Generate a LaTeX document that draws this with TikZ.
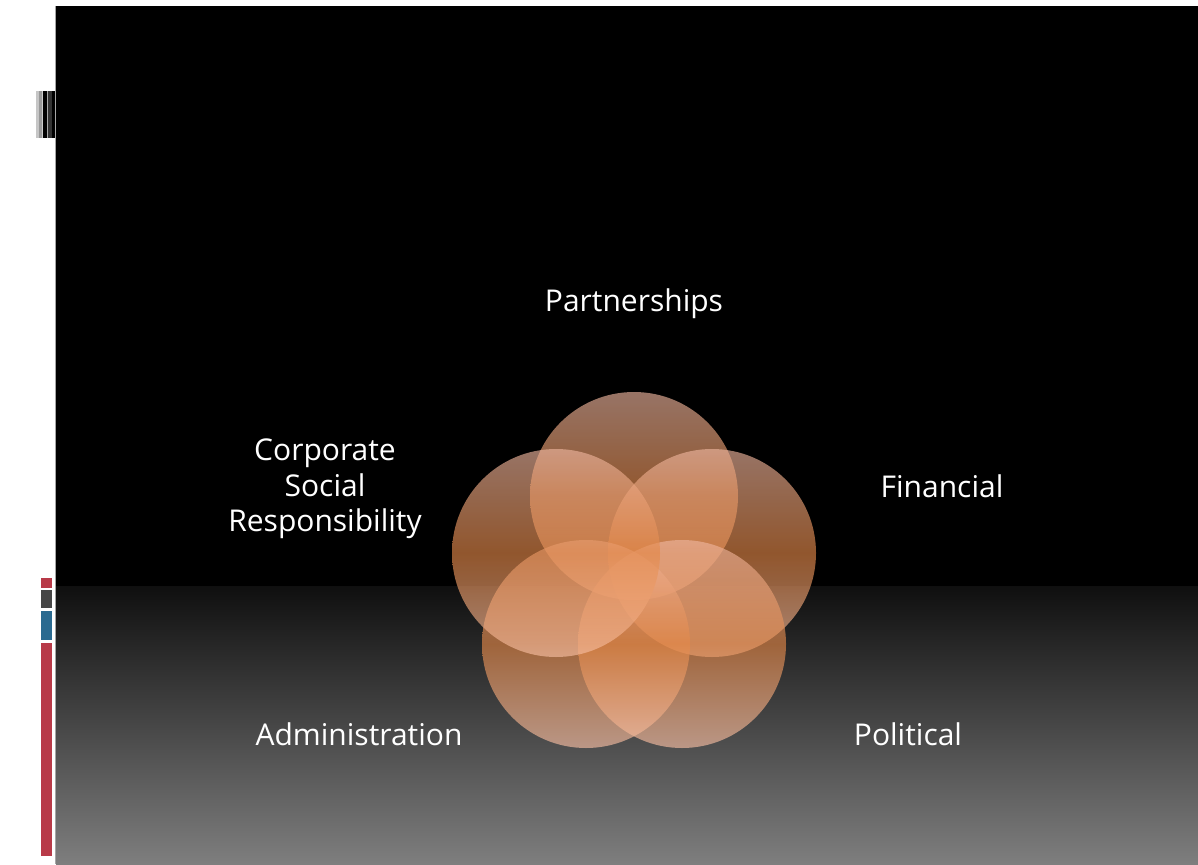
\documentclass[tikz,border=0pt]{standalone}
\usepackage{fontspec}
\setmainfont{Open Sans}

\definecolor{slidegrey}{RGB}{126,126,126}
\definecolor{venntop}{RGB}{238,182,160}
\definecolor{vennmid}{RGB}{228,136,72}
\definecolor{vennbot}{RGB}{248,192,165}
\definecolor{barred}{RGB}{184,58,72}
\definecolor{barblue}{RGB}{42,106,144}
\definecolor{bargrey}{RGB}{70,70,70}

\begin{document}
\begin{tikzpicture}[x=1pt, y=-1pt,
  venn/.style={circle, minimum size=208pt, inner sep=0pt,
    top color=venntop, bottom color=vennbot, middle color=vennmid,
    fill opacity=0.64},
  area/.style={text=white, font=\fontsize{30}{35.5}\selectfont, align=center, inner sep=0pt}]

\useasboundingbox (0,0) rectangle (1198,864);
\fill[white] (0,0) rectangle (1198,864);

% slide background
\fill[black] (56,6) rectangle (1198,590);
\shade[top color=black!94!white, bottom color=slidegrey] (56,586) rectangle (1198,864);
\draw[gray!70, line width=1pt] (55.5,6) -- (55.5,864);

% barcode mark
\foreach \xa/\xb/\c in {36/39/gray!45, 39/42/gray!80, 42/43/gray!40, 43/47/black,
                        47/48/gray!70, 48/52/black!80, 52/55/black}
  \fill[\c] (\xa,91) rectangle (\xb,138);

% colour bars
\foreach \ya/\yb/\c in {578/588/barred, 590/608/bargrey, 611/640/barblue, 643/856/barred}
  \fill[\c] (41,\ya) rectangle (52,\yb);

% five circles round the centre
\foreach \n/\x/\y in {partnerships/634/496, financial/712/553, political/682/644,
                      administration/586/644, csr/556/553}
  \node[venn] (\n) at (\x,\y) {};

% labels
\node[area, anchor=base] (partnerships-label) at (634,311) {Partnerships};
\node[area, anchor=base] (financial-label) at (942,497) {Financial};
\node[area, anchor=base] (political-label) at (908,745) {Political};
\node[area, anchor=base] (administration-label) at (359,745) {Administration};
\node[area] (csr-label) at (325,489) {Corporate\\Social\\Responsibility};

\end{tikzpicture}
\end{document}
